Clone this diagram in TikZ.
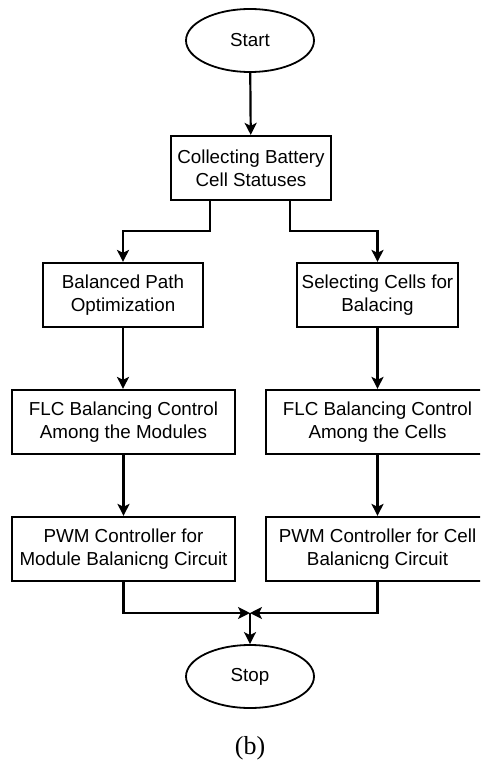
\documentclass[tikz,border=0pt]{standalone}
\usepackage{fontspec}
\setmainfont{Liberation Sans}
\newfontfamily\capfont{Liberation Serif}
\usetikzlibrary{shapes.geometric,arrows.meta}
\tikzset{
  every node/.style={font=\fontsize{18.8}{23}\selectfont, align=center, inner sep=0pt},
  term/.style={draw, line width=1.8pt, ellipse, minimum width=128pt, minimum height=63pt},
  proc/.style={draw, line width=2.2pt, rectangle, minimum height=64pt},
  arr/.style={line width=2.2pt, -{Stealth[length=12pt, width=12pt, inset=3pt]}},
}
\begin{document}
\begin{tikzpicture}[x=1pt, y=-1pt]
\useasboundingbox (0,0) rectangle (480,762);
\clip (0,0) rectangle (480,762);
\fill[white] (0,0) rectangle (480,762);
\node[term] (start) at (250,40.5) {Start};
\node[proc, minimum width=160pt] (collect) at (251,168) {Collecting Battery\\Cell Statuses};
\node[proc, minimum width=160pt] (bpo) at (123,295) {Balanced Path\\Optimization};
\node[proc, minimum width=161pt] (sel) at (377.5,295) {Selecting Cells for\\Balacing};
\node[proc, minimum width=223pt] (flcm) at (123.5,422) {FLC Balancing Control\\Among the Modules};
\node[proc, minimum width=223pt] (flcc) at (377.5,422) {FLC Balancing Control\\Among the Cells};
\node[proc, minimum width=223pt] (pwmm) at (123.5,549) {PWM Controller for\\Module Balanicng Circuit};
\node[proc, minimum width=223pt] (pwmc) at (377.5,549) {PWM Controller for Cell\\Balanicng Circuit};
\node[term] (stop) at (250,676.5) {Stop};
\node[font=\capfont\fontsize{26}{30}\selectfont] (cap) at (250,748) {(b)};
\coordinate (sl) at (210,231);
\coordinate (sr) at (290,231);
\coordinate (j) at (250,613);
\draw[arr] (start) -- (collect);
\draw[arr] (collect.south -| sl) -- (sl) -| (bpo.north);
\draw[arr] (collect.south -| sr) -- (sr) -| (sel.north);
\draw[arr] (bpo) -- (flcm.north -| bpo.south);
\draw[arr] (sel) -- (flcc.north -| sel.south);
\draw[arr] (flcm) -- (pwmm);
\draw[arr] (flcc) -- (pwmc);
\draw[arr] (pwmm.south) |- (j);
\draw[arr] (pwmc.south) |- (j);
\draw[arr] (j) -- (stop.north);
\end{tikzpicture}
\end{document}
